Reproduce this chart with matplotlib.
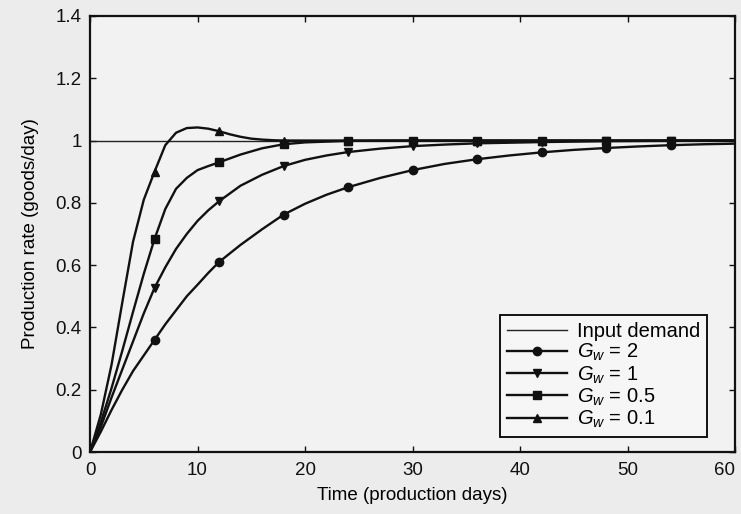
import matplotlib
matplotlib.use("Agg")
import matplotlib.pyplot as plt
from matplotlib.ticker import FuncFormatter

# ---- data ----
t_demand = [0, 60]
demand = [1.0, 1.0]

t_g2 = [0, 1, 2, 3, 4, 5, 6, 7, 8, 9, 10, 11, 12, 14, 16, 18, 20, 22, 24, 27, 30, 33, 36, 39, 42, 45, 48, 51, 54, 57, 60]
g2 = [0, 0.065, 0.135, 0.2, 0.26, 0.31, 0.36, 0.41, 0.455, 0.5, 0.537, 0.575, 0.61, 0.665, 0.715, 0.762, 0.797, 0.826, 0.85, 0.88, 0.905, 0.925, 0.94, 0.952, 0.962, 0.97, 0.976, 0.981, 0.985, 0.988, 0.99]

t_g1 = [0, 1, 2, 3, 4, 5, 6, 7, 8, 9, 10, 11, 12, 14, 16, 18, 20, 22, 24, 27, 30, 33, 36, 42, 48, 54, 60]
g1 = [0, 0.08, 0.175, 0.265, 0.355, 0.445, 0.527, 0.593, 0.652, 0.7, 0.742, 0.776, 0.805, 0.855, 0.89, 0.918, 0.938, 0.952, 0.963, 0.974, 0.982, 0.987, 0.991, 0.995, 0.998, 0.999, 1.0]

t_g05 = [0, 1, 2, 3, 4, 5, 6, 7, 8, 9, 10, 11, 12, 14, 16, 18, 20, 24, 30, 36, 42, 48, 54, 60]
g05 = [0, 0.095, 0.205, 0.325, 0.45, 0.572, 0.684, 0.78, 0.845, 0.88, 0.905, 0.918, 0.93, 0.955, 0.975, 0.988, 0.994, 0.999, 1.0, 1.0, 1.0, 1.0, 1.0, 1.0]

t_g01 = [0, 1, 2, 3, 4, 5, 6, 7, 8, 9, 10, 11, 12, 13, 14, 15, 16, 17, 18, 24, 30, 36, 42, 48, 54, 60]
g01 = [0, 0.12, 0.28, 0.48, 0.675, 0.81, 0.9, 0.985, 1.025, 1.04, 1.042, 1.038, 1.03, 1.02, 1.012, 1.006, 1.003, 1.001, 1.0, 1.0, 1.0, 1.0, 1.0, 1.0, 1.0, 1.0]

marker_days = [6, 12, 18, 24, 30, 36, 42, 48, 54]

series = [
    ("$G_w$ = 2", t_g2, g2, "o"),
    ("$G_w$ = 1", t_g1, g1, "v"),
    ("$G_w$ = 0.5", t_g05, g05, "s"),
    ("$G_w$ = 0.1", t_g01, g01, "^"),
]

plt.rcParams['font.family'] = ['Liberation Sans', 'DejaVu Sans']
plt.rcParams['mathtext.fontset'] = 'custom'
plt.rcParams['mathtext.it'] = 'Liberation Sans:italic'
plt.rcParams['mathtext.rm'] = 'Liberation Sans'

fig = plt.figure(figsize=(7.41, 5.14), dpi=100, facecolor='#ececec')
ax = fig.add_axes([0.1215, 0.1206, 0.8705, 0.8484])
ax.set_facecolor('#f2f2f2')

ax.plot(t_demand, demand, color='#222222', lw=1.0, label='Input demand')
for label, t, v, m in series:
    idx = [t.index(d) for d in marker_days if d in t]
    ax.plot(t, v, color='#111111', lw=1.7, marker=m, markersize=6,
            markevery=idx, label=label)

ax.set_xlim(0, 60)
ax.set_ylim(0, 1.4)
ax.set_xticks([0, 10, 20, 30, 40, 50, 60])
ax.set_yticks([0, 0.2, 0.4, 0.6, 0.8, 1.0, 1.2, 1.4])
ax.yaxis.set_major_formatter(FuncFormatter(lambda v, p: f"{v:g}"))
ax.tick_params(direction='in', top=True, right=True, labelsize=13.5, length=4, width=1, colors='#111111')
ax.tick_params(axis='x', pad=7)
ax.tick_params(axis='y', pad=6)
for s in ax.spines.values():
    s.set_linewidth(1.6)
    s.set_color('#111111')

# keep the last x tick label inside the figure
fig.canvas.draw()
xl = ax.get_xticklabels()
xl[-1].set_horizontalalignment('right')
xl[-1].set_x(60)

ax.set_xlabel('Time (production days)', fontsize=13.5, labelpad=6)
ax.set_ylabel('Production rate (goods/day)', fontsize=13.5, labelpad=12)

leg = ax.legend(loc='lower right', bbox_to_anchor=(0.957, 0.034), borderaxespad=0,
                fontsize=14.5, frameon=True, fancybox=False, edgecolor='#111111',
                facecolor='#f6f6f6', framealpha=1, handlelength=3.0,
                labelspacing=0.05, borderpad=0.35, handletextpad=0.5)
leg.get_frame().set_linewidth(1.4)

fig.savefig('out.png', dpi=100, facecolor=fig.get_facecolor())
